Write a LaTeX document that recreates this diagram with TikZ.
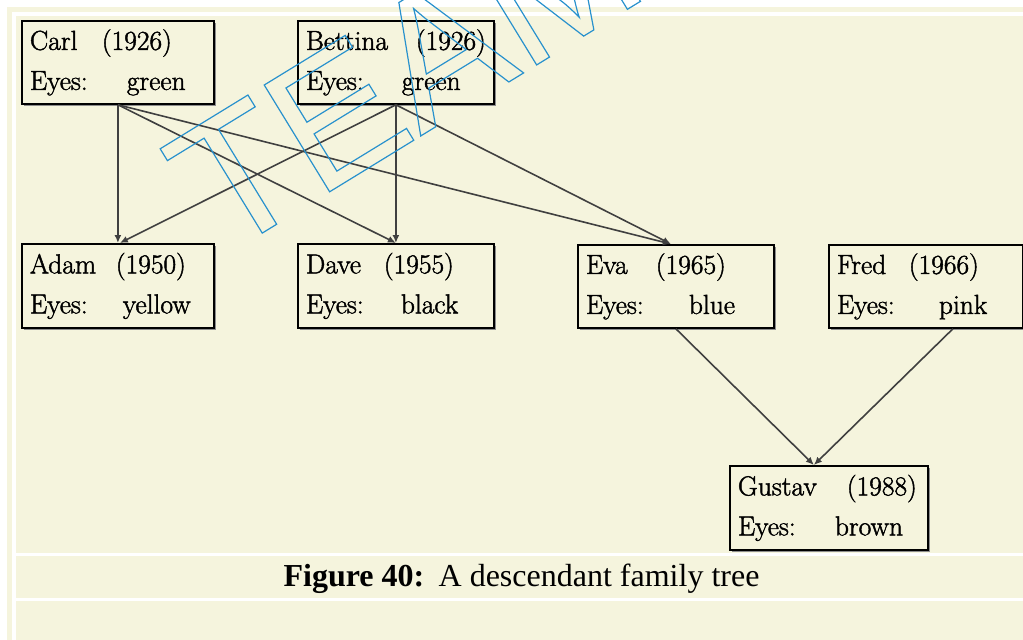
\documentclass[tikz,border=0pt]{standalone}
\usepackage{fontspec}
\usetikzlibrary{arrows.meta,shadows}
\newfontfamily\capfont{Liberation Serif}
\newfontfamily\wmfont{Liberation Sans}
\newfontfamily\boxfont{Latin Modern Roman}[FakeBold=1.6]
\definecolor{bg}{RGB}{245,244,221}
\definecolor{wm}{RGB}{40,145,205}
\tikzset{
  person/.style={draw=black,line width=1.8pt,fill=bg,anchor=north west,
    inner xsep=8pt,inner ysep=0pt,align=left,
    font=\boxfont\fontsize{27.5}{40}\selectfont,
    drop shadow={shadow xshift=2pt,shadow yshift=-2pt,fill=black!45,opacity=1}},
  link/.style={draw=black!75,line width=1.6pt,-{Latex[length=8pt,width=7pt]}},
  band/.style={fill=white,draw=none}
}
\begin{document}
\begin{tikzpicture}[x=1pt,y=-1pt]
\useasboundingbox (0,0) rectangle (1023,640);
\clip (0,0) rectangle (1023,640);
% page background
\fill[white] (0,0) rectangle (1023,640);
\fill[bg] (7,7) rectangle (1023,640);
\fill[band] (12,12) rectangle (1023,16);
\fill[band] (12,12) rectangle (16,640);
\fill[band] (16,553) rectangle (1023,556);
\fill[band] (16,598) rectangle (1023,601);

% persons
\node[person,minimum width=192pt,minimum height=83pt,text width=176pt] (carl) at (21,20)
  {\makebox[72pt][l]{Carl}(1926)\\\makebox[97pt][l]{Eyes:}green};
\node[person,minimum width=196pt,minimum height=83pt,text width=180pt] (bettina) at (297,20)
  {\makebox[110pt][l]{Bettina}(1926)\\\makebox[96pt][l]{Eyes:}green};
\node[person,minimum width=192pt,minimum height=84pt,text width=176pt] (adam) at (21,243)
  {\makebox[86pt][l]{Adam}(1950)\\\makebox[93pt][l]{Eyes:}yellow};
\node[person,minimum width=196pt,minimum height=84pt,text width=180pt] (dave) at (297,243)
  {\makebox[78pt][l]{Dave}(1955)\\\makebox[95pt][l]{Eyes:}black};
\node[person,minimum width=196pt,minimum height=83pt,text width=180pt] (eva) at (577,244)
  {\makebox[70pt][l]{Eva}(1965)\\\makebox[103pt][l]{Eyes:}blue};
\node[person,minimum width=194pt,minimum height=83pt,text width=178pt] (fred) at (828,244)
  {\makebox[72pt][l]{Fred}(1966)\\\makebox[102pt][l]{Eyes:}pink};
\node[person,minimum width=198pt,minimum height=84pt,text width=182pt] (gustav) at (729,465)
  {\makebox[109pt][l]{Gustav}(1988)\\\makebox[97pt][l]{Eyes:}brown};

% connectors
\coordinate (evain) at ([xshift=-5pt]eva.north);
\coordinate (adamin) at ([xshift=2pt]adam.north);
\coordinate (gusin) at ([xshift=-15pt]gustav.north);
\coordinate (fredout) at ([xshift=27pt]fred.south);
\draw[link] (carl.south) -- (adam.north);
\draw[link] (carl.south) -- (dave.north);
\draw[link] (carl.south) -- (evain);
\draw[link] (bettina.south) -- (adamin);
\draw[link] (bettina.south) -- (dave.north);
\draw[link] (bettina.south) -- (evain);
\draw[link] (eva.south) -- (gusin);
\draw[link] (fredout) -- (gusin);

% caption
\node[font=\capfont\fontsize{32}{32}\selectfont,anchor=base,inner sep=0pt] (caption) at (521.5,586)
  {\textbf{Figure 40:}\hspace{0.45em}A descendant family tree};

% watermark (outlined text)
\node[font=\wmfont\fontsize{182}{182}\selectfont,text=wm,line width=1.2pt,rotate=31.5,
      anchor=base west,inner sep=0pt] (wmark) at (221.6,258)
  {\special{pdf:literal direct 1 Tr}TEAM LinG\special{pdf:literal direct 0 Tr}};
\end{tikzpicture}
\end{document}
